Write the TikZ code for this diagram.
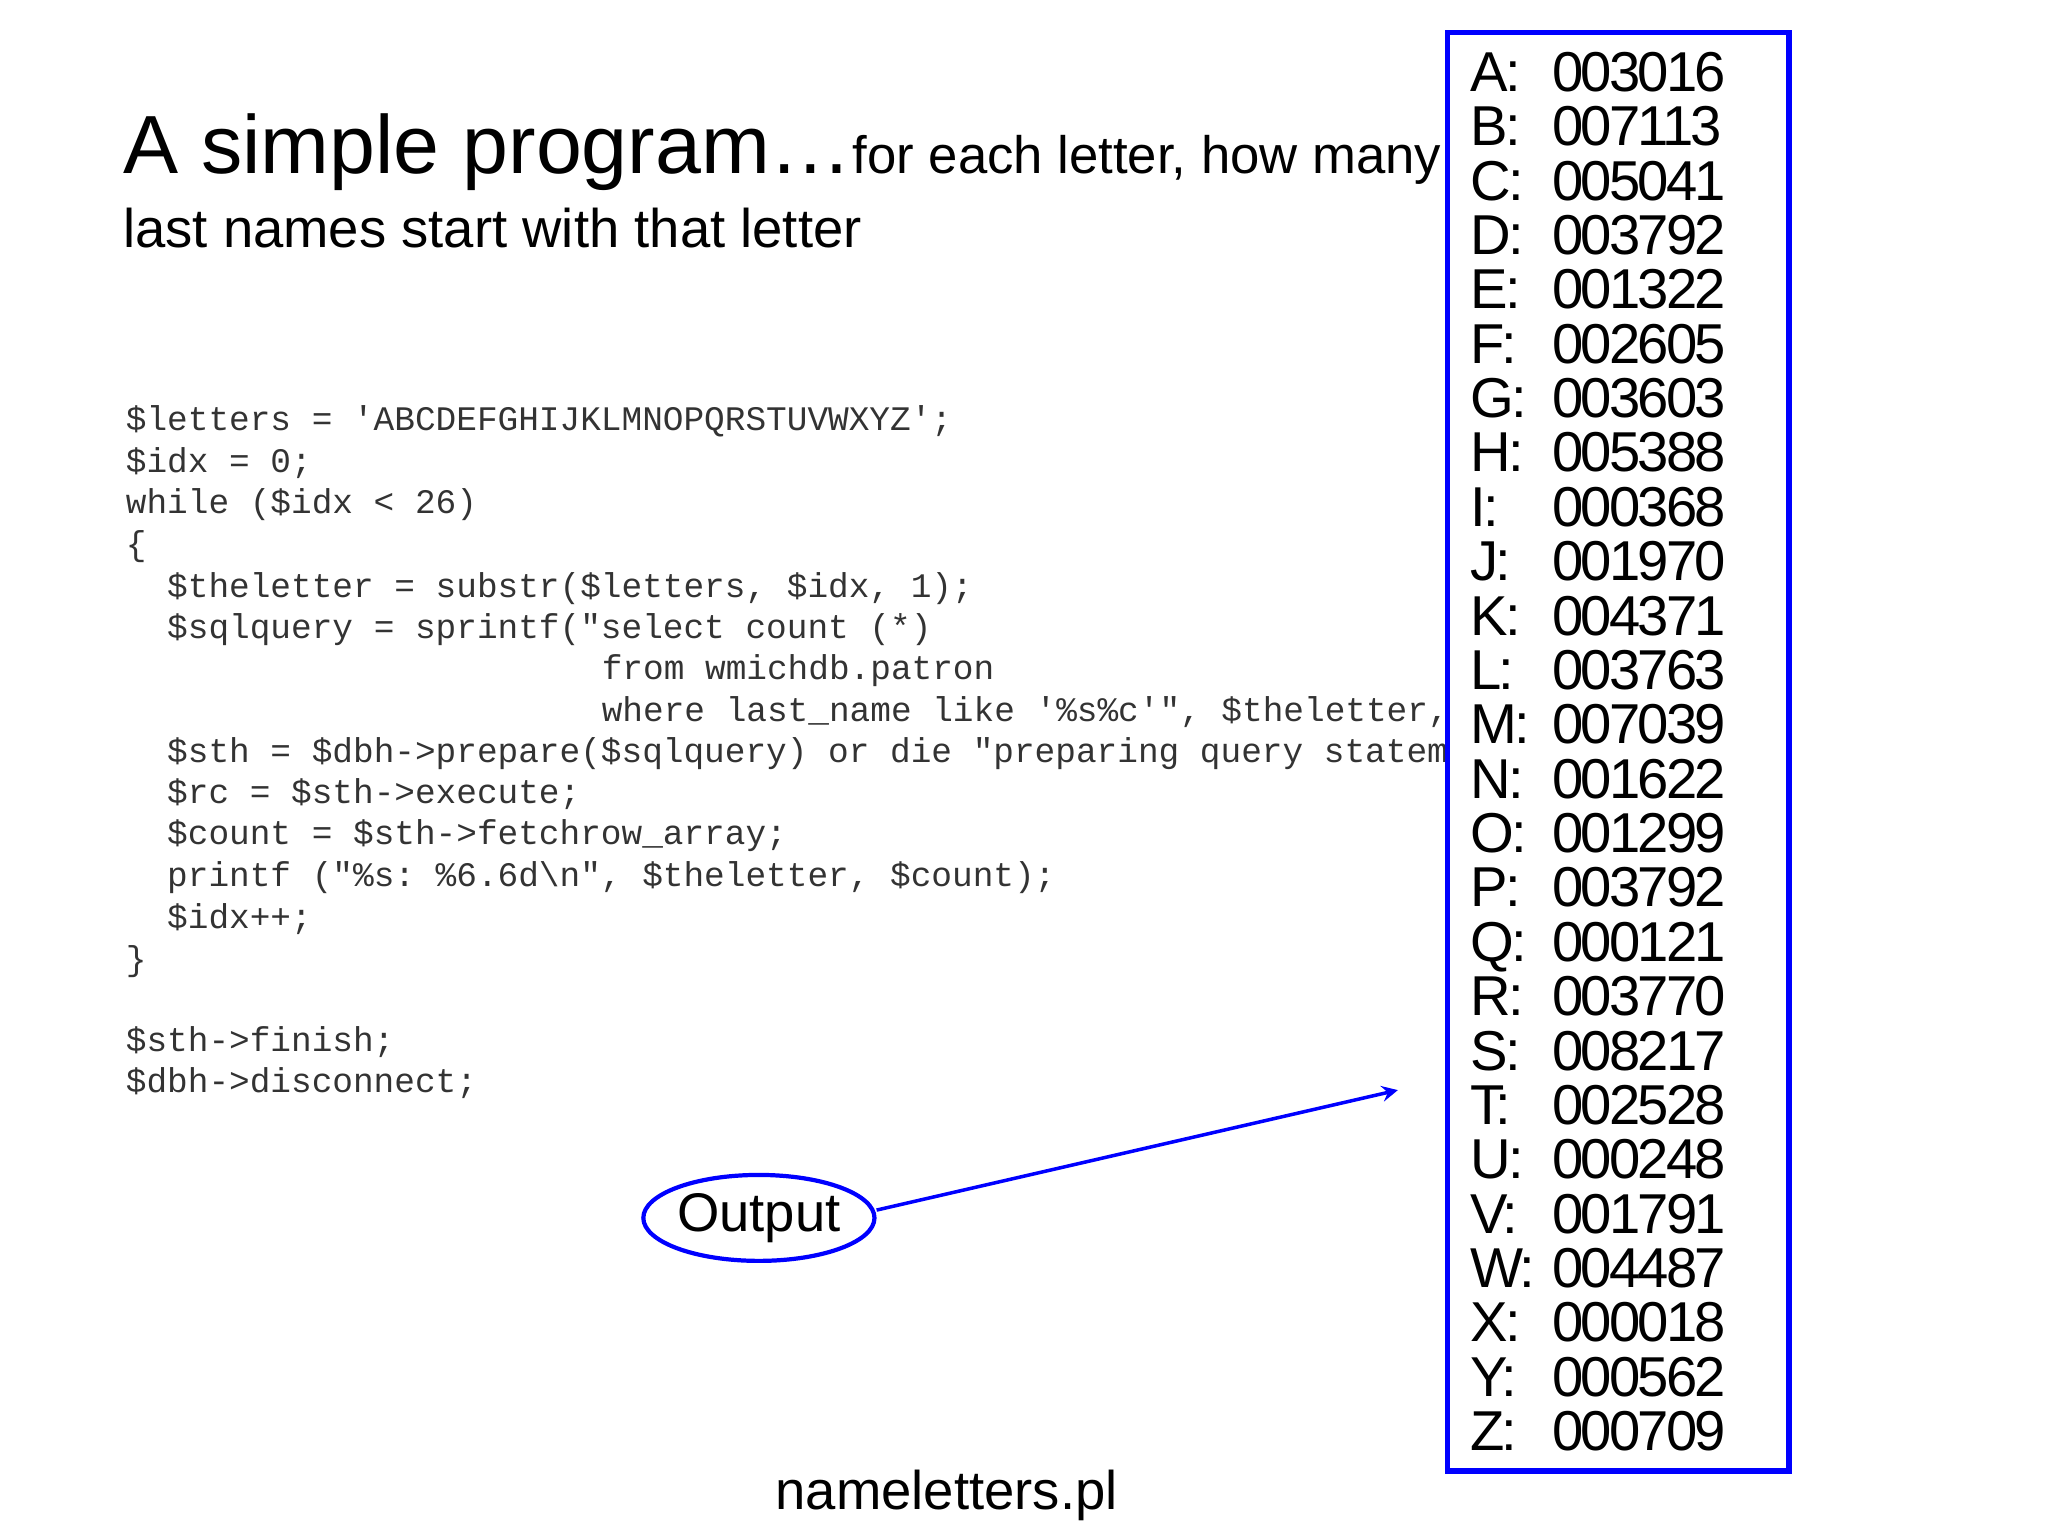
\documentclass[tikz,border=0pt]{standalone}
\usepackage{fontspec}
\setmainfont{Liberation Sans}
\setmonofont{Liberation Mono}
\usetikzlibrary{shapes.geometric}
\begin{document}
\begin{tikzpicture}[x=0.01304cm,y=-0.01304cm,
  code/.style={anchor=base west,inner sep=0pt,text=black!80,font=\fontsize{9.8}{12}\selectfont\ttfamily},
  lt/.style={anchor=base west,inner sep=0pt,font=\fontsize{16}{18}\selectfont\addfontfeature{LetterSpace=-5}},
  big/.style={anchor=base west,inner sep=0pt}]
\useasboundingbox (0,0) rectangle (1570.6,1178);
\node[big] (t1) at (94,133) {\fontsize{23.5}{28}\selectfont A simple program…\fontsize{15}{18}\selectfont for each letter, how many};
\node[big] (t2) at (94,190) {\fontsize{15.5}{18}\selectfont last names start with that letter};
\node[code] (c1) at (96,330) {\$letters = 'ABCDEFGHIJKLMNOPQRSTUVWXYZ';};
\node[code] (c2) at (96,362) {\$idx = 0;};
\node[code] (c3) at (96,394) {while (\$idx < 26)};
\node[code] (c4) at (96,426) {\{};
\node[code] (c5) at (96,458) {\ \ \$theletter = substr(\$letters, \$idx, 1);};
\node[code] (c6) at (96,490) {\ \ \$sqlquery = sprintf("select count (*)};
\node[code] (c7) at (461,521) {from wmichdb.patron};
\node[code] (c8) at (461,553) {where last\_name like '\%s\%c'", \$theletter,};
\node[code] (c9) at (96,585) {\ \ \$sth = \$dbh->prepare(\$sqlquery) or die "preparing query statem};
\node[code] (c10) at (96,616) {\ \ \$rc = \$sth->execute;};
\node[code] (c11) at (96,648) {\ \ \$count = \$sth->fetchrow\_array;};
\node[code] (c12) at (96,680) {\ \ printf ("\%s: \%6.6d\textbackslash n", \$theletter, \$count);};
\node[code] (c13) at (96,712) {\ \ \$idx++;};
\node[code] (c14) at (96,744) {\}};
\node[code] (c15) at (96,806) {\$sth->finish;};
\node[code] (c16) at (96,838) {\$dbh->disconnect;};
\draw[blue,line width=1.5pt,fill=white] (1110,25) rectangle (1372,1128);
\foreach \l/\n [count=\i from 0] in {A/003016,B/007113,C/005041,D/003792,E/001322,F/002605,G/003603,H/005388,I/000368,J/001970,K/004371,L/003763,M/007039,N/001622,O/001299,P/003792,Q/000121,R/003770,S/008217,T/002528,U/000248,V/001791,W/004487,X/000018,Y/000562,Z/000709}{
  \node[lt] (l\i) at (1127,{70+41.7*\i}) {\l:};
  \node[lt] (n\i) at (1190,{70+41.7*\i}) {\n};
}
\node[draw=blue,line width=1.2pt,ellipse,minimum width=2.2cm,minimum height=0.86cm,inner sep=0pt,font=\fontsize{15.5}{18}\selectfont] (out) at (582,934) {Output};
\coordinate (tip) at (1072,836);
\draw[blue,line width=1pt,-stealth] (out.east) ++(0,-6) -- (tip);
\node[inner sep=0pt,font=\fontsize{15.5}{18}\selectfont] (fn) at (726,1147) {nameletters.pl};
\end{tikzpicture}
\end{document}
